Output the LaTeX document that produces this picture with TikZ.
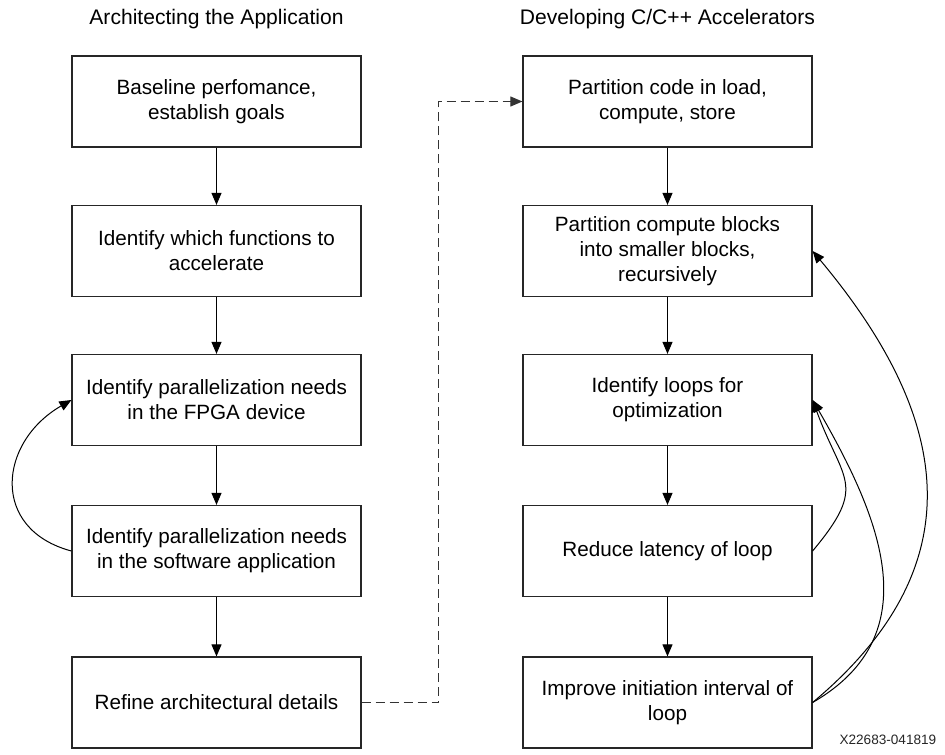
\documentclass[tikz,border=0pt]{standalone}
\usepackage{fontspec}
\setmainfont{Liberation Sans}
\usetikzlibrary{arrows.meta}
\begin{document}
\begin{tikzpicture}[x=0.75pt,y=-0.75pt,
  box/.style={draw=black!85, line width=0.9pt, minimum width=216.75pt, minimum height=68.25pt,
    inner sep=0pt, align=center, text=black, font=\fontsize{15.5}{18.75}\selectfont},
  ttl/.style={text=black, font=\fontsize{15.8}{18.75}\selectfont},
  flow/.style={-{Triangle[length=9pt,width=7.5pt]}, line width=0.75pt, draw=black},
  dashflow/.style={flow, draw=black!80, dash pattern=on 6.75pt off 3.75pt}]
\useasboundingbox (0,0) rectangle (945,755);
% titles
\node[ttl] (tl) at (216.5,19) {Architecting the Application};
\node[ttl] (tr) at (667.5,19) {Developing C/C++ Accelerators};
% left column
\node[box] (l1) at (216.5,101.5) {Baseline perfomance,\\establish goals};
\node[box] (l2) at (216.5,251) {Identify which functions to\\accelerate};
\node[box] (l3) at (216.5,400) {Identify parallelization needs\\in the FPGA device};
\node[box] (l4) at (216.5,551) {Identify parallelization needs\\in the software application};
\node[box] (l5) at (216.5,702.5) {Refine architectural details};
% right column
\node[box] (r1) at (667.5,101.5) {Partition code in load,\\compute, store};
\node[box] (r2) at (667.5,251) {Partition compute blocks\\into smaller blocks,\\recursively};
\node[box] (r3) at (667.5,400) {Identify loops for\\optimization};
\node[box] (r4) at (667.5,551) {Reduce latency of loop};
\node[box] (r5) at (667.5,702.5) {Improve initiation interval of\\loop};
% label
\node[anchor=east, text=black!85, font=\fontsize{10.2}{12}\selectfont] (lab) at (941,740) {X22683-041819};
% vertical arrows
\draw[flow] (l1) -- (l2);
\draw[flow] (l2) -- (l3);
\draw[flow] (l3) -- (l4);
\draw[flow] (l4) -- (l5);
\draw[flow] (r1) -- (r2);
\draw[flow] (r2) -- (r3);
\draw[flow] (r3) -- (r4);
\draw[flow] (r4) -- (r5);
% loops
\draw[flow] (l4.west) .. controls +(-81.5,-21.8) and +(-73.1,42.2) .. (l3.west);
\draw[flow] (r4.east) .. controls +(56,-67) and +(29.8,81.8) .. (r3.east);
\draw[flow] (r5.east) .. controls +(117.3,-67.8) and +(67.8,117.3) .. (r3.east);
\draw[flow] (r5.east) .. controls +(165,-138) and +(138,165) .. (r2.east);
% dashed link
\draw[dashflow] (l5.east) -- ++(77,0) |- (r1.west);
\end{tikzpicture}
\end{document}
